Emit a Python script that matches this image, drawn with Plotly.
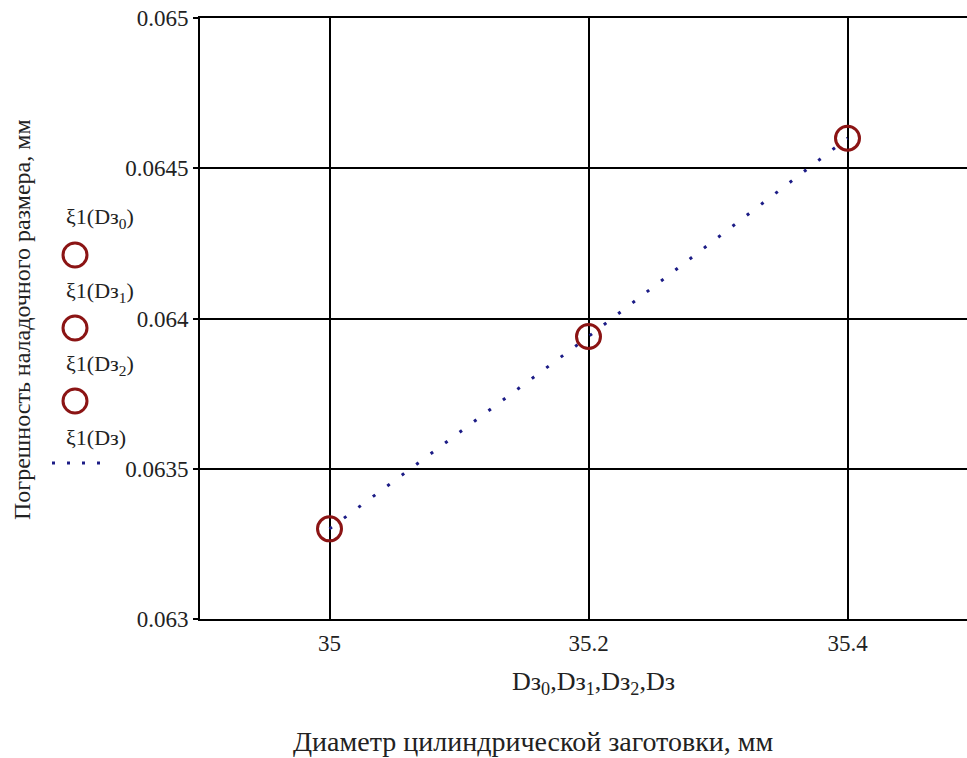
import plotly.graph_objects as go

# ---- data ----
Ds_points = [35.0, 35.2, 35.4]                 # Dз0, Dз1, Dз2
xi_points = [0.06330, 0.06394, 0.06460]        # ξ1(Dз0), ξ1(Dз1), ξ1(Dз2)
Ds_line = [35.0, 35.2, 35.4]                   # Dз
xi_line = [0.06330, 0.06394, 0.06460]          # ξ1(Dз)
point_names = ["ξ1(Dз<sub>0</sub>)", "ξ1(Dз<sub>1</sub>)", "ξ1(Dз<sub>2</sub>)"]
line_name = "ξ1(Dз)"
x_ticks = [35.0, 35.2, 35.4]
x_ticktext = ["35", "35.2", "35.4"]
y_ticks = [0.063, 0.0635, 0.064, 0.0645, 0.065]
y_ticktext = ["0.063", "0.0635", "0.064", "0.0645", "0.065"]

W, H = 967, 758
ML, MR, MT, MB = 200, 0, 18, 139
PW, PH = W - ML - MR, H - MT - MB

def px(xp):
    return (xp - ML) / PW

def py(yp):
    return (H - MB - yp) / PH

FONT = "Liberation Serif"
TXT = "#222222"
RED = "#8b1414"
NAVY = "#1c1c86"

fig = go.Figure(layout=dict(template="none"))

fig.add_trace(go.Scatter(
    x=Ds_line, y=xi_line, mode="lines", name=line_name,
    line=dict(color=NAVY, width=3, dash="3px,15px"),
    showlegend=False, hoverinfo="skip",
))
for i, name in enumerate(point_names):
    fig.add_trace(go.Scatter(
        x=[Ds_points[i]], y=[xi_points[i]], mode="markers", name=name,
        marker=dict(symbol="circle-open", size=24, color=RED,
                    line=dict(color=RED, width=3)),
        showlegend=False,
    ))

fig.update_layout(
    xaxis=dict(
        range=[34.9, 34.9 + PW / 1295.0],
        tickmode="array", tickvals=x_ticks, ticktext=x_ticktext,
        tickfont=dict(family=FONT, size=23, color=TXT),
        showline=True, linecolor="black", linewidth=2, mirror=True,
        showgrid=True, gridcolor="black", gridwidth=2, zeroline=False,
        ticks="", ticklabelstandoff=2,
    ),
    yaxis=dict(
        range=[0.063, 0.065],
        tickmode="array", tickvals=y_ticks, ticktext=y_ticktext,
        tickfont=dict(family=FONT, size=23, color=TXT),
        showline=True, linecolor="black", linewidth=2, mirror=False,
        showgrid=True, gridcolor="black", gridwidth=2, zeroline=False,
        ticks="outside", ticklen=5, tickcolor="black", tickwidth=2,
    ),
)

annotations = []
shapes = []

# Legend (Mathcad-style, on the left)
legend_text_y = [218, 292, 365]
legend_circle_y = [255, 328, 401]
for name, ty, cy in zip(point_names, legend_text_y, legend_circle_y):
    annotations.append(dict(
        text=name, xref="paper", yref="paper", x=px(100), y=py(ty),
        xanchor="center", yanchor="middle", showarrow=False,
        font=dict(family=FONT, size=22, color=TXT),
    ))
    shapes.append(dict(
        type="circle", xref="paper", yref="paper",
        xsizemode="pixel", ysizemode="pixel",
        xanchor=px(75), yanchor=py(cy),
        x0=-12, x1=12, y0=-12, y1=12,
        line=dict(color=RED, width=3),
    ))
annotations.append(dict(
    text=line_name, xref="paper", yref="paper", x=px(96), y=py(437),
    xanchor="center", yanchor="middle", showarrow=False,
    font=dict(family=FONT, size=22, color=TXT),
))
shapes.append(dict(
    type="line", xref="paper", yref="paper",
    x0=px(52), x1=px(104), y0=py(463), y1=py(463),
    line=dict(color=NAVY, width=3, dash="3px,12px"),
))

# Axis titles
annotations.append(dict(
    text="Погрешность наладочного размера, мм", xref="paper", yref="paper",
    x=px(22), y=py(320), textangle=-90, xanchor="center", yanchor="middle",
    showarrow=False, font=dict(family=FONT, size=24, color=TXT),
))
annotations.append(dict(
    text="Dз<sub>0</sub>,Dз<sub>1</sub>,Dз<sub>2</sub>,Dз", xref="paper", yref="paper",
    x=px(593), y=py(683), xanchor="center", yanchor="middle",
    showarrow=False, font=dict(family=FONT, size=26, color=TXT),
))
annotations.append(dict(
    text="Диаметр цилиндрической заготовки, мм", xref="paper", yref="paper",
    x=px(533), y=py(741), xanchor="center", yanchor="middle",
    showarrow=False, font=dict(family=FONT, size=28, color=TXT),
))

fig.update_layout(
    width=W, height=H,
    margin=dict(l=ML, r=MR, t=MT, b=MB, autoexpand=False),
    paper_bgcolor="white", plot_bgcolor="white",
    font=dict(family=FONT, size=23, color=TXT),
    showlegend=False,
    annotations=annotations, shapes=shapes,
)

fig.write_html(
    "out.html",
    config={"displayModeBar": False},
    post_script="document.body.style.margin='0';document.body.style.padding='0';",
)
